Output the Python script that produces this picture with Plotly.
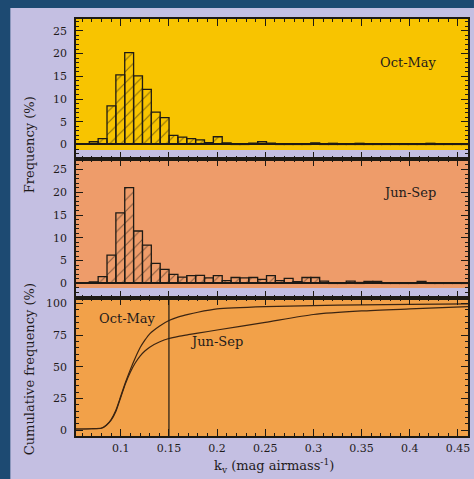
import numpy as np
import plotly.graph_objects as go

# ---------------- data ----------------
bin_start = 0.0673      # left edge of first histogram bin (mag/airmass)
bin_width = 0.0092      # histogram bin width

freq_oct_may = [0.6, 1.3, 8.5, 15.3, 20.2, 15.1, 12.1, 7.1, 5.9, 2.0,
                1.6, 1.3, 1.0, 0.4, 1.7, 0.35, 0.15, 0.1, 0.3, 0.6,
                0.3, 0.1, 0.1, 0.1, 0.1, 0.35, 0.1, 0.25, 0.1, 0.1,
                0.25, 0.1, 0.05, 0.05, 0.05, 0.05, 0.05, 0.1, 0.25, 0.05,
                0.05, 0.05, 0.05]
freq_jun_sep = [0.35, 1.5, 6.2, 15.5, 21.0, 11.5, 8.4, 4.4, 3.1, 2.0,
                1.4, 1.7, 1.75, 1.2, 1.7, 0.6, 1.3, 1.2, 1.3, 0.9,
                1.7, 0.6, 1.1, 0.4, 1.3, 1.3, 0.5, 0.15, 0.15, 0.5,
                0.2, 0.45, 0.45, 0.15, 0.15, 0.1, 0.15, 0.45, 0.15, 0.15,
                0.1, 0.1, 0.1]

cum_k = [0.0535, 0.07, 0.08, 0.085, 0.09, 0.095, 0.1, 0.105, 0.11, 0.115,
         0.12, 0.125, 0.13, 0.14, 0.15, 0.16, 0.17, 0.18, 0.2, 0.25,
         0.3, 0.35, 0.4, 0.4605]
cum_oct_may = [1.0, 1.2, 1.6, 4.0, 8.5, 16.0, 27.0, 38.0, 48.0, 57.0,
               65.0, 71.0, 76.0, 82.0, 86.5, 89.3, 91.3, 93.0, 95.6, 97.4,
               98.2, 98.8, 99.2, 99.5]
cum_jun_sep = [1.0, 1.2, 1.8, 4.0, 8.0, 15.0, 26.0, 37.0, 46.0, 53.0,
               58.5, 62.5, 65.5, 69.5, 72.3, 74.0, 75.3, 76.5, 79.0, 85.0,
               91.2, 94.0, 95.6, 97.4]

k_threshold = 0.15
x_range = [0.0535, 0.4605]
season_labels = ["Oct-May", "Jun-Sep"]
x_title = "k<sub>v</sub> (mag airmass<sup>-1</sup>)"
y_title_top = "Frequency (%)"
y_title_bottom = "Cumulative frequency (%)"

bin_centers = bin_start + bin_width * (np.arange(len(freq_oct_may)) + 0.5)

# ---------------- styling ----------------
W, H = 474, 479
ML, MR, MT, MB = 76, 4, 19, 43
INK = "#1e1a14"
FONT = "DejaVu Serif"
TXT = "#1f1b1b"
BLUE = "#1d4a72"
LAVENDER = "#c4bfe2"
YELLOW = "#f8c400"
SALMON = "#ee9c6a"
ORANGE = "#f2a149"

plot_w = W - ML - MR
plot_h = H - MT - MB

def py(pix):  # pixel row -> paper y
    return (H - MB - pix) / plot_h

def px(pix):  # pixel column -> paper x
    return (pix - ML) / plot_w

d1 = [py(159), 1.0]
d2 = [py(298), py(159)]
d3 = [0.0, py(298)]

fig = go.Figure()

hist_marker = dict(color="rgba(0,0,0,0)",
                   line=dict(color=INK, width=1.3),
                   pattern=dict(shape="/", fgcolor=INK, size=8, solidity=0.14))

fig.add_trace(go.Bar(x=bin_centers, y=freq_oct_may, width=bin_width,
                     marker=hist_marker, xaxis="x", yaxis="y",
                     name=season_labels[0]))
fig.add_trace(go.Bar(x=bin_centers, y=freq_jun_sep, width=bin_width,
                     marker=hist_marker, xaxis="x2", yaxis="y2",
                     name=season_labels[1]))
fig.add_trace(go.Scatter(x=cum_k, y=cum_oct_may, mode="lines",
                         line=dict(color="#3b2412", width=1.2, shape="spline", smoothing=0.6),
                         xaxis="x3", yaxis="y3", name=season_labels[0]))
fig.add_trace(go.Scatter(x=cum_k, y=cum_jun_sep, mode="lines",
                         line=dict(color="#3b2412", width=1.2, shape="spline", smoothing=0.6),
                         xaxis="x3", yaxis="y3", name=season_labels[1]))

tickfont = dict(family=FONT, size=11, color=TXT)

def xax(anchor, labels):
    return dict(range=x_range, anchor=anchor, showgrid=False, zeroline=False,
                showline=True, linecolor=INK, linewidth=1.5, mirror="ticks",
                ticks="inside", ticklen=7, tickwidth=1.2, tickcolor=INK,
                tick0=0, dtick=0.05, showticklabels=labels, tickfont=tickfont,
                ticklabelstandoff=1,
                minor=dict(dtick=0.01, ticks="inside", ticklen=3.5, tickwidth=1, tickcolor=INK))

def yax(anchor, domain, rng, dtick, minor_dtick, zeroline):
    return dict(domain=domain, range=rng, anchor=anchor, showgrid=False,
                zeroline=zeroline, zerolinecolor=INK, zerolinewidth=2,
                showline=True, linecolor=INK, linewidth=1.5, mirror="ticks",
                ticks="inside", ticklen=7, tickwidth=1.2, tickcolor=INK,
                tick0=0, dtick=dtick, tickfont=tickfont, ticklabelstandoff=5,
                minor=dict(dtick=minor_dtick, ticks="inside", ticklen=3.5, tickwidth=1, tickcolor=INK))

fig.update_layout(
    width=W, height=H,
    margin=dict(l=ML, r=MR, t=MT, b=MB, pad=0),
    paper_bgcolor=LAVENDER, plot_bgcolor="rgba(0,0,0,0)",
    showlegend=False, barmode="overlay",
    xaxis=xax("y", False),
    xaxis2=xax("y2", False),
    xaxis3=xax("y3", True),
    yaxis=yax("x", d1, [-3.2, 27.6], 5, 1, True),
    yaxis2=yax("x2", d2, [-3.2, 27.3], 5, 1, True),
    yaxis3=yax("x3", d3, [-4.5, 104.2], 25, 5, False),
)

shapes = [
    # dark blue frame strips (left and top) of the slide
    dict(type="rect", xref="paper", yref="paper", layer="below",
         x0=px(-2), x1=px(10), y0=py(H + 2), y1=py(-2),
         fillcolor=BLUE, line=dict(width=0)),
    dict(type="rect", xref="paper", yref="paper", layer="below",
         x0=px(-2), x1=px(W + 2), y0=py(8), y1=py(-2),
         fillcolor=BLUE, line=dict(width=0)),
    dict(type="rect", xref="x domain", yref="y domain", layer="below",
         x0=0, x1=1, y0=(159 - 150) / 140, y1=1, fillcolor=YELLOW, line=dict(width=0)),
    dict(type="rect", xref="x2 domain", yref="y2 domain", layer="below",
         x0=0, x1=1, y0=(298 - 288) / 139, y1=1, fillcolor=SALMON, line=dict(width=0)),
    dict(type="rect", xref="x3 domain", yref="y3 domain", layer="below",
         x0=0, x1=1, y0=0, y1=1, fillcolor=ORANGE, line=dict(width=0)),
    dict(type="line", xref="x3", yref="y3 domain", layer="above",
         x0=k_threshold, x1=k_threshold, y0=0, y1=1, line=dict(color=INK, width=1.2)),
]
fig.update_layout(shapes=shapes)

lab_font = dict(family=FONT, size=13, color=TXT)
title_font = dict(family=FONT, size=13, color=TXT)
common = dict(showarrow=False, xanchor="center", yanchor="middle")
annotations = [
    dict(text=season_labels[0], xref="x domain", yref="y domain", x=0.848, y=0.686,
         font=lab_font, **common),
    dict(text=season_labels[1], xref="x2 domain", yref="y2 domain", x=0.85, y=0.757,
         font=lab_font, **common),
    dict(text=season_labels[0], xref="x3 domain", yref="y3 domain", x=0.132, y=0.848,
         font=lab_font, **common),
    dict(text=season_labels[1], xref="x3 domain", yref="y3 domain", x=0.358, y=0.683,
         font=lab_font, **common),
    dict(text=y_title_top, xref="paper", yref="paper", x=px(29), y=py(145),
         textangle=-90, font=title_font, **common),
    dict(text=y_title_bottom, xref="paper", yref="paper", x=px(29), y=py(369),
         textangle=-90, font=title_font, **common),
    dict(text=x_title, xref="paper", yref="paper", x=px(275), y=py(466),
         font=title_font, **common),
]
fig.update_layout(annotations=annotations)

page_fix = ("document.body.style.margin='0';document.body.style.padding='0';"
            "document.documentElement.style.overflow='hidden';"
            "document.body.style.background='" + LAVENDER + "';")
fig.write_html("out.html", post_script=page_fix, config={"displayModeBar": False})
